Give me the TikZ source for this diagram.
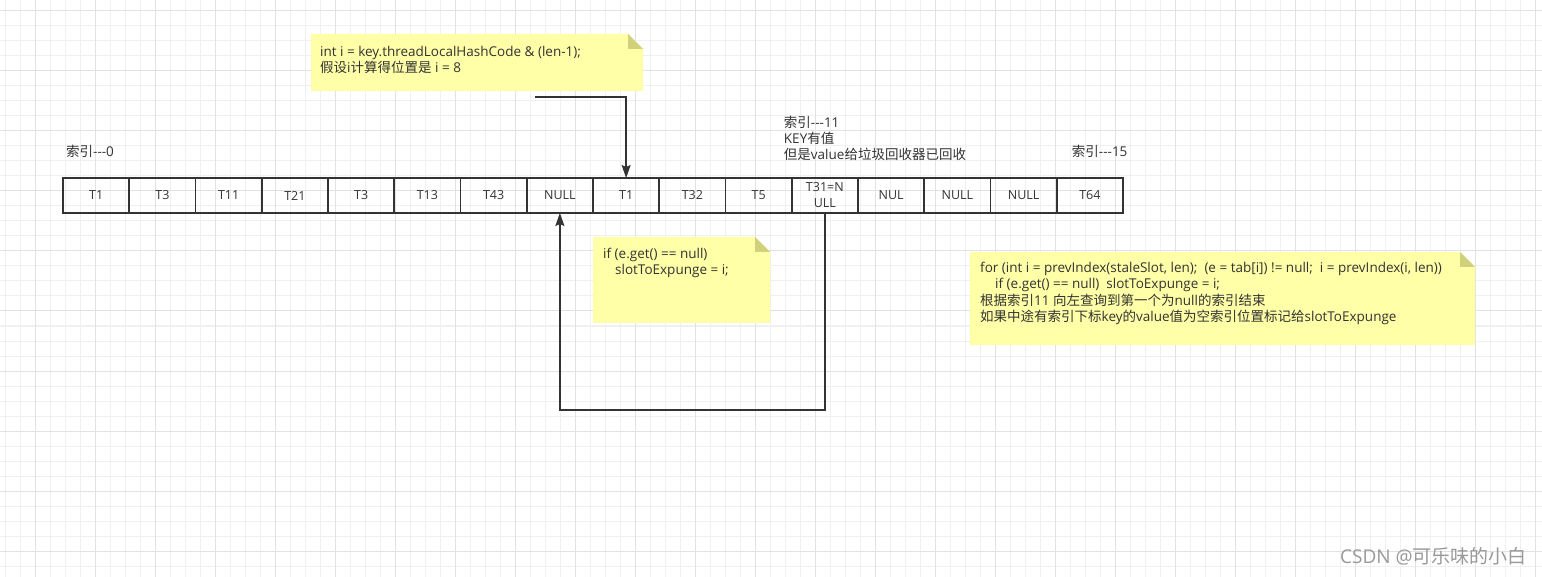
\documentclass[tikz,border=0pt]{standalone}
\usepackage{fontspec}
\setmainfont{Open Sans}
\newfontfamily\cjk{Noto Sans CJK SC}
\usepackage{tikz}
\usetikzlibrary{calc,arrows.meta}
\definecolor{nyellow}{HTML}{FFFFA8}
\definecolor{nfold}{HTML}{D1D17D}
\definecolor{sgrid}{HTML}{F0F0F0}
\definecolor{mgrid}{HTML}{E2E2E2}
\definecolor{sdark}{HTML}{333333}

\begin{document}
\begin{tikzpicture}[x=1pt,y=-1pt,
    CELL/.style={draw=sdark,line width=1.6pt,rectangle,minimum width=66.25pt,minimum height=35pt,inner sep=0pt,outer sep=0pt,align=center,text=sdark,font=\fontsize{12.5}{16}\selectfont},
    NOTE/.style={rectangle,anchor=north west,inner sep=0pt,outer sep=0pt},
    NTXT/.style={anchor=north west,inner sep=0pt,align=left,text=sdark,font=\fontsize{13.5}{16.3}\selectfont},
    LBL/.style={inner sep=0pt,align=left,text=sdark,font=\fontsize{13.5}{16}\selectfont},
    AR/.style={-{Stealth[length=13pt,width=9pt,inset=2pt]},draw=sdark,line width=1.6pt}]
    \useasboundingbox (0,0) rectangle (1542,577);
    \fill[white] (0,0) rectangle (1542,577);
    % grid of the canvas
    \foreach \gx in {5,20,...,1540} \draw[sgrid,line width=1pt] (\gx,0) -- (\gx,577);
    \foreach \gy in {11,26,...,577} \draw[sgrid,line width=1pt] (0,\gy) -- (1542,\gy);
    \foreach \gx in {35,95,...,1540} \draw[mgrid,line width=1pt] (\gx,0) -- (\gx,577);
    \foreach \gy in {11,71,...,577} \draw[mgrid,line width=1pt] (0,\gy) -- (1542,\gy);
    % the table, index 0 to 15
    \node[CELL] (c0) at (96.125,195.5) {T1};
    \node[CELL,anchor=west] (c1) at (c0.east) {T3};
    \node[CELL,anchor=west] (c2) at (c1.east) {T11};
    \node[CELL,anchor=west] (c3) at (c2.east) {T21};
    \node[CELL,anchor=west] (c4) at (c3.east) {T3};
    \node[CELL,anchor=west] (c5) at (c4.east) {T13};
    \node[CELL,anchor=west] (c6) at (c5.east) {T43};
    \node[CELL,anchor=west] (c7) at (c6.east) {NULL};
    \node[CELL,anchor=west] (c8) at (c7.east) {T1};
    \node[CELL,anchor=west] (c9) at (c8.east) {T32};
    \node[CELL,anchor=west] (c10) at (c9.east) {T5};
    \node[CELL,anchor=west] (c11) at (c10.east) {T31=N\\ULL};
    \node[CELL,anchor=west] (c12) at (c11.east) {NUL};
    \node[CELL,anchor=west] (c13) at (c12.east) {NULL};
    \node[CELL,anchor=west] (c14) at (c13.east) {NULL};
    \node[CELL,anchor=west] (c15) at (c14.east) {T64};
    % index labels
    \node[LBL,anchor=west] (idx0) at ($(c0.north west)+(3,-27)$) {{\cjk 索引}-{}-{}-0};
    \node[LBL,anchor=north west] (idx11) at ($(c11.north west)+(-8,-62)$) {{\cjk 索引}-{}-{}-11\\KEY{\cjk 有值}\\{\cjk 但是}value{\cjk 给垃圾回收器已回收}};
    \node[LBL,anchor=west] (idx15) at ($(c15.north west)+(15,-27)$) {{\cjk 索引}-{}-{}-15};
    % note: hash position
    \node[NOTE,minimum width=332pt,minimum height=57pt] (note1) at (311,34) {};
    \fill[nyellow] (note1.north west) -- ($(note1.north east)+(-15,0)$) -- ($(note1.north east)+(0,15)$) -- (note1.south east) -- (note1.south west) -- cycle;
    \fill[nfold] ($(note1.north east)+(-15,0)$) -- ($(note1.north east)+(-15,15)$) -- ($(note1.north east)+(0,15)$) -- cycle;
    \node[NTXT] (note1txt) at ($(note1.north west)+(9,12)$) {int i = key.threadLocalHashCode \& (len-1);\\{\cjk 假设}i{\cjk 计算得位置是} i = 8};
    % note: the check inside the loop
    \node[NOTE,minimum width=177pt,minimum height=86pt] (note2) at (593,237) {};
    \fill[nyellow] (note2.north west) -- ($(note2.north east)+(-15,0)$) -- ($(note2.north east)+(0,15)$) -- (note2.south east) -- (note2.south west) -- cycle;
    \fill[nfold] ($(note2.north east)+(-15,0)$) -- ($(note2.north east)+(-15,15)$) -- ($(note2.north east)+(0,15)$) -- cycle;
    \node[NTXT] (note2txt) at ($(note2.north west)+(10,11)$) {if (e.get() == null)\\\hspace*{12pt}slotToExpunge = i;};
    % note: the backward scan
    \node[NOTE,minimum width=505pt,minimum height=93pt] (note3) at (970,252) {};
    \fill[nyellow] (note3.north west) -- ($(note3.north east)+(-15,0)$) -- ($(note3.north east)+(0,15)$) -- (note3.south east) -- (note3.south west) -- cycle;
    \fill[nfold] ($(note3.north east)+(-15,0)$) -- ($(note3.north east)+(-15,15)$) -- ($(note3.north east)+(0,15)$) -- cycle;
    \node[NTXT] (note3txt) at ($(note3.north west)+(10,10)$) {for (int i = prevIndex(staleSlot, len);\ \ (e = tab[i]) != null;\ \ i = prevIndex(i, len))\\\hspace*{15pt}if (e.get() == null)\ \ slotToExpunge = i;\\{\cjk 根据索引}11 {\cjk 向左查询到第一个为}null{\cjk 的索引结束}\\{\cjk 如果中途有索引下标}key{\cjk 的}value{\cjk 值为空索引位置标记给}slotToExpunge};
    % ARROWS
    % note to slot 8
    \coordinate (src) at ($(note1.south west)+(224,6)$);
    \draw[AR] (src) -| (c8.north);
    % slot 11 back to slot 7
    \draw[AR] (c11.south) -- ++(0,197) -| (c7.south);
    % watermark
    \node[anchor=east,inner sep=0pt,text=gray!80,font=\fontsize{19}{19}\selectfont] (wm) at (1527,556) {CSDN @{\cjk 可乐味的小白}};
\end{tikzpicture}
\end{document}
